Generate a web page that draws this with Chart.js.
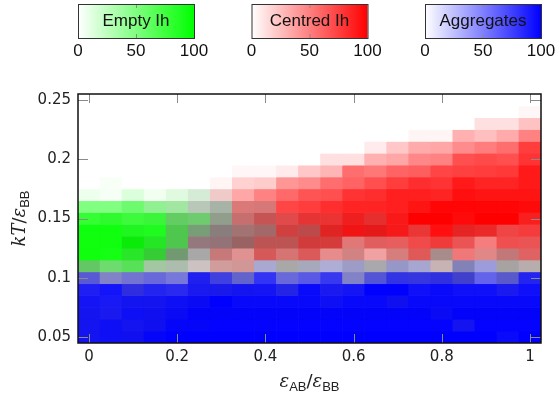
<!DOCTYPE html>
<html>
<head>
<meta charset="utf-8">
<script src="https://cdn.jsdelivr.net/npm/chart.js@4/dist/chart.umd.min.js"></script>
<style>
  html, body { margin: 0; padding: 0; background: #fff; }
  #wrap { width: 556px; height: 398px; }
</style>
</head>
<body>
<div id="wrap"><canvas id="mapa"></canvas></div>
<script>
// columnas (eps_AB/eps_BB) y filas (kT/eps_BB), filas de arriba a abajo
const xValues = [0, 0.05, 0.1, 0.15, 0.2, 0.25, 0.3, 0.35, 0.4, 0.45, 0.5, 0.55, 0.6, 0.65, 0.7, 0.75, 0.8, 0.85, 0.9, 0.95, 1];
const yValues = [0.25, 0.24, 0.23, 0.22, 0.21, 0.2, 0.19, 0.18, 0.17, 0.16, 0.15, 0.14, 0.13, 0.12, 0.11, 0.1, 0.09, 0.08, 0.07, 0.06, 0.05];
const xTicks = [0, 0.2, 0.4, 0.6, 0.8, 1];
const yTicks = [0.05, 0.1, 0.15, 0.2, 0.25];
const legendTicks = [0, 50, 100];
const stateNames = ['Empty Ih', 'Centred Ih', 'Aggregates'];

// porcentaje de cada estado por celda
const emptyIh = [
    [0,0,0,0,0,0,0,0,0,0,0,0,0,0,0,0,0,0,0,0,0],
    [0,0,0,0,0,0,0,0,0,0,0,0,0,0,0,0,0,0,0,0,0],
    [0,0,0,0,0,0,0,0,0,0,0,0,0,0,0,0,0,0,0,0,0],
    [0,0,0,0,0,0,0,0,0,0,0,0,0,0,0,0,0,0,0,0,0],
    [0,0,0,0,0,0,0,0,0,0,0,0,0,0,0,0,0,0,0,0,0],
    [0,0,0,0,0,0,0,0,0,0,0,0,0,0,0,0,0,0,0,0,0],
    [0,0,0,0,0,0,0,0,0,0,0,0,0,0,0,0,0,0,0,0,0],
    [0,3,0,0,0,0,0,0,0,0,0,0,0,0,0,0,0,0,0,0,0],
    [7,4,14,6,11,12,3,0,0,0,0,0,0,0,0,0,0,0,0,0,0],
    [50,50,56,40,32,17,19,7,8,0,0,0,0,0,0,0,0,0,0,0,0],
    [80,81,75,75,51,47,25,11,11,6,5,4,3,5,1,0,0,0,0,0,1],
    [94,94,86,87,58,34,23,18,18,9,13,6,3,5,2,4,0,5,4,3,2],
    [94,94,92,81,58,20,20,20,13,13,9,8,6,6,5,3,3,4,2,3,4],
    [94,92,79,69,35,17,11,6,8,8,7,5,9,3,8,6,17,3,6,12,6],
    [50,50,59,25,19,10,9,9,9,17,13,8,11,16,11,9,11,14,7,17,14],
    [8,11,9,7,7,3,6,10,2,7,5,3,11,8,5,6,6,10,4,10,3],
    [2,1,6,3,3,3,4,3,2,5,1,3,2,0,0,1,1,1,1,3,1],
    [2,2,3,3,2,2,0,1,1,1,1,2,1,1,3,1,1,1,1,1,1],
    [3,3,2,3,2,1,1,1,1,1,1,1,1,1,1,1,2,1,1,1,1],
    [3,2,3,3,1,1,0,0,0,0,0,0,0,0,0,0,0,3,0,0,0],
    [3,2,3,1,0,0,0,0,0,0,0,0,0,0,0,0,0,0,0,1,0]
];
const centredIh = [
    [0,0,0,0,0,0,0,0,0,0,0,0,0,0,0,0,0,0,0,0,0],
    [0,0,0,0,0,0,0,0,0,0,0,0,0,0,0,0,0,0,0,0,3],
    [0,0,0,0,0,0,0,0,0,0,0,0,0,0,0,0,0,0,12,12,24],
    [0,0,0,0,0,0,0,0,0,0,0,0,0,0,0,4,4,31,25,33,49],
    [0,0,0,0,0,0,0,0,0,0,0,0,0,8,22,33,35,45,51,57,76],
    [0,0,0,0,0,0,0,0,0,0,0,12,12,31,35,47,49,69,71,69,80],
    [0,0,0,0,0,0,0,3,3,8,22,29,57,53,61,63,73,75,76,78,90],
    [0,0,0,0,0,0,4,18,20,41,45,57,61,69,76,82,80,90,86,86,90],
    [0,0,0,0,1,4,18,35,49,59,67,69,80,82,88,88,86,94,92,92,92],
    [0,0,1,3,5,11,15,46,45,73,76,82,86,86,88,92,98,98,98,98,96],
    [0,1,1,2,10,10,20,46,56,65,75,76,85,77,89,100,100,96,100,100,87],
    [0,0,2,1,11,19,28,37,41,66,58,80,89,85,88,75,94,81,80,70,75],
    [0,0,4,5,11,31,33,41,54,54,68,69,47,57,58,68,74,63,49,66,63],
    [0,0,5,10,20,17,42,37,57,47,58,40,40,34,43,59,28,50,41,41,55],
    [11,7,6,11,13,14,30,32,9,17,13,8,11,16,11,9,19,14,7,19,18],
    [8,11,9,7,7,3,6,10,2,7,5,3,11,8,5,6,6,10,4,10,3],
    [2,1,6,3,3,3,4,3,2,5,1,3,2,0,0,1,1,1,1,3,1],
    [2,2,3,3,2,2,0,1,1,1,1,2,1,1,3,1,1,1,1,1,1],
    [3,3,2,3,2,1,1,1,1,1,1,1,1,1,1,1,2,1,1,1,1],
    [3,2,3,3,1,1,0,0,0,0,0,0,0,0,0,0,0,3,0,0,0],
    [3,2,3,1,0,0,0,0,0,0,0,0,0,0,0,0,0,0,0,1,0]
];
const aggregates = [
    [0,0,0,0,0,0,0,0,0,0,0,0,0,0,0,0,0,0,0,0,0],
    [0,0,0,0,0,0,0,0,0,0,0,0,0,0,0,0,0,0,0,0,0],
    [0,0,0,0,0,0,0,0,0,0,0,0,0,0,0,0,0,0,0,0,0],
    [0,0,0,0,0,0,0,0,0,0,0,0,0,0,0,0,0,0,0,0,0],
    [0,0,0,0,0,0,0,0,0,0,0,0,0,0,0,0,0,0,0,0,0],
    [0,0,0,0,0,0,0,0,0,0,0,0,0,0,0,0,0,0,0,0,0],
    [0,0,0,0,0,0,0,0,0,0,0,0,0,0,0,0,0,0,0,0,0],
    [0,0,0,0,0,0,0,0,0,0,0,0,0,0,0,0,0,0,0,0,0],
    [0,0,0,0,1,4,3,0,0,0,0,0,0,0,0,0,0,0,0,0,0],
    [0,0,1,3,5,11,15,7,8,0,0,0,0,0,0,0,0,0,0,0,0],
    [0,1,1,2,10,10,18,11,11,6,5,4,3,5,1,0,0,0,0,0,1],
    [0,0,2,1,11,19,23,18,18,9,13,6,3,5,2,4,0,5,4,3,2],
    [0,0,4,5,11,22,22,20,13,13,9,8,6,6,5,3,3,4,2,3,4],
    [0,0,5,10,20,17,11,6,8,8,7,5,9,3,8,6,17,3,6,12,6],
    [11,7,6,11,13,10,9,9,25,17,21,24,28,18,30,26,11,35,32,17,14],
    [57,38,46,52,46,85,69,51,78,52,60,75,38,59,75,73,75,65,57,55,83],
    [86,91,76,83,81,87,86,89,90,81,95,87,90,100,100,93,95,93,93,87,93],
    [90,88,89,89,92,94,100,96,96,96,96,92,96,96,91,96,96,96,96,96,96],
    [89,87,92,91,94,98,98,98,98,98,98,98,98,98,98,98,94,98,98,98,98],
    [89,92,89,91,97,97,99,99,99,99,99,99,99,99,99,99,99,89,99,99,99],
    [89,92,91,97,100,100,100,100,100,100,100,100,100,100,100,100,100,100,100,95,100]
];

// mezcla sobre blanco: verde = vacio, rojo = centrado, azul = agregados
function colorCelda(g, r, b) {
    const c = v => Math.max(0, Math.min(255, Math.round(255 * (1 - v / 100))));
    return 'rgb(' + c(g + b) + ',' + c(r + b) + ',' + c(r + g) + ')';
}

const datasets = yValues.map((yv, j) => ({
    data: xValues.map(xv => ({ x: xv, y: [yv - 0.005, yv + 0.005] })),
    backgroundColor: xValues.map((xv, i) => colorCelda(emptyIh[j][i], centredIh[j][i], aggregates[j][i])),
    borderWidth: 0,
    barPercentage: 1,
    categoryPercentage: 1,
    grouped: false
}));

// dibuja texto con subindices
function textoPartes(ctx, partes, cx, base) {
    let ancho = 0;
    partes.forEach(p => { ctx.font = p.f; ancho += ctx.measureText(p.t).width; });
    let x = cx - ancho / 2;
    ctx.textAlign = 'left';
    ctx.textBaseline = 'alphabetic';
    partes.forEach(p => {
        ctx.font = p.f;
        ctx.fillText(p.t, x, base + (p.dy || 0));
        x += ctx.measureText(p.t).width;
    });
}

const marco = {
    id: 'marco',
    afterDatasetsDraw(chart) {
        const { ctx, chartArea: a, scales: { x, y } } = chart;
        ctx.save();
        ctx.strokeStyle = '#8a8a8a';
        ctx.lineWidth = 1;
        ctx.beginPath();
        xTicks.forEach(v => {
            const px = Math.round(x.getPixelForValue(v)) + 0.5;
            ctx.moveTo(px, a.bottom); ctx.lineTo(px, a.bottom - 9);
            ctx.moveTo(px, a.top); ctx.lineTo(px, a.top + 9);
        });
        yTicks.forEach(v => {
            const py = Math.round(y.getPixelForValue(v)) + 0.5;
            ctx.moveTo(a.left, py); ctx.lineTo(a.left + 10, py);
            ctx.moveTo(a.right, py); ctx.lineTo(a.right - 10, py);
        });
        ctx.stroke();
        ctx.strokeStyle = '#111';
        ctx.lineWidth = 1.5;
        ctx.strokeRect(a.left, a.top, a.right - a.left, a.bottom - a.top);
        ctx.restore();
    },
    afterDraw(chart) {
        const { ctx, chartArea: a } = chart;
        ctx.save();
        ctx.fillStyle = '#222';
        // titulo eje x
        const serif = 'italic 18px "DejaVu Serif"';
        const sub = '13px "Liberation Sans"';
        textoPartes(ctx, [
            { t: 'ε', f: serif }, { t: 'AB', f: sub, dy: 4 },
            { t: '/', f: '18px "DejaVu Sans"' },
            { t: 'ε', f: serif }, { t: 'BB', f: sub, dy: 4 }
        ], (a.left + a.right) / 2, 387);
        // titulo eje y
        ctx.save();
        ctx.translate(25, (a.top + a.bottom) / 2);
        ctx.rotate(-Math.PI / 2);
        textoPartes(ctx, [
            { t: 'kT', f: serif },
            { t: '/', f: '18px "DejaVu Sans"' },
            { t: 'ε', f: serif }, { t: 'BB', f: sub, dy: 4 }
        ], 0, 0);
        ctx.restore();

        // barras de color de la leyenda
        const puros = ['rgb(0,255,0)', 'rgb(255,0,0)', 'rgb(0,0,255)'];
        const w = 116, h = 34, top = 4;
        const gap = ((a.right - a.left) - 3 * w) / 2;
        stateNames.forEach((nombre, i) => {
            const left = a.left + i * (w + gap);
            const grad = ctx.createLinearGradient(left, 0, left + w, 0);
            grad.addColorStop(0, '#ffffff');
            grad.addColorStop(1, puros[i]);
            ctx.fillStyle = grad;
            ctx.fillRect(left, top, w, h);
            ctx.strokeStyle = '#8a8a8a';
            ctx.lineWidth = 1;
            ctx.beginPath();
            ctx.moveTo(left + w / 2 + 0.5, top); ctx.lineTo(left + w / 2 + 0.5, top + 4);
            ctx.moveTo(left + w / 2 + 0.5, top + h); ctx.lineTo(left + w / 2 + 0.5, top + h - 4);
            ctx.stroke();
            ctx.strokeStyle = '#333';
            ctx.strokeRect(left + 0.5, top + 0.5, w, h);
            ctx.fillStyle = '#111';
            ctx.font = '17px "Liberation Sans"';
            ctx.textAlign = 'center';
            ctx.textBaseline = 'middle';
            ctx.fillText(nombre, left + w / 2, top + h / 2);
            legendTicks.forEach(t => {
                ctx.fillText(String(t), left + w * t / 100, 51);
            });
        });
        ctx.restore();
    }
};

new Chart(document.getElementById('mapa'), {
    type: 'bar',
    data: { datasets: datasets },
    options: {
        responsive: true,
        maintainAspectRatio: false,
        animation: false,
        layout: { padding: { top: 94, right: 15, left: 0, bottom: 0 } },
        plugins: { legend: { display: false }, tooltip: { enabled: false } },
        scales: {
            x: {
                type: 'linear',
                offset: false,
                min: -0.025,
                max: 1.025,
                grid: { display: false, drawTicks: false },
                border: { display: false },
                afterBuildTicks: s => { s.ticks = xTicks.map(v => ({ value: v })); },
                afterFit: s => { s.height = 55; },
                ticks: {
                    padding: 5,
                    color: '#222',
                    font: { family: 'DejaVu Sans', size: 15 },
                    callback: v => String(v)
                }
            },
            y: {
                type: 'linear',
                min: 0.045,
                max: 0.255,
                grid: { display: false, drawTicks: false },
                border: { display: false },
                afterBuildTicks: s => { s.ticks = yTicks.map(v => ({ value: v })); },
                afterFit: s => { s.width = 78; },
                ticks: {
                    padding: 7,
                    color: '#222',
                    font: { family: 'DejaVu Sans', size: 15 },
                    callback: v => String(v)
                }
            }
        }
    },
    plugins: [marco]
});
</script>
</body>
</html>
